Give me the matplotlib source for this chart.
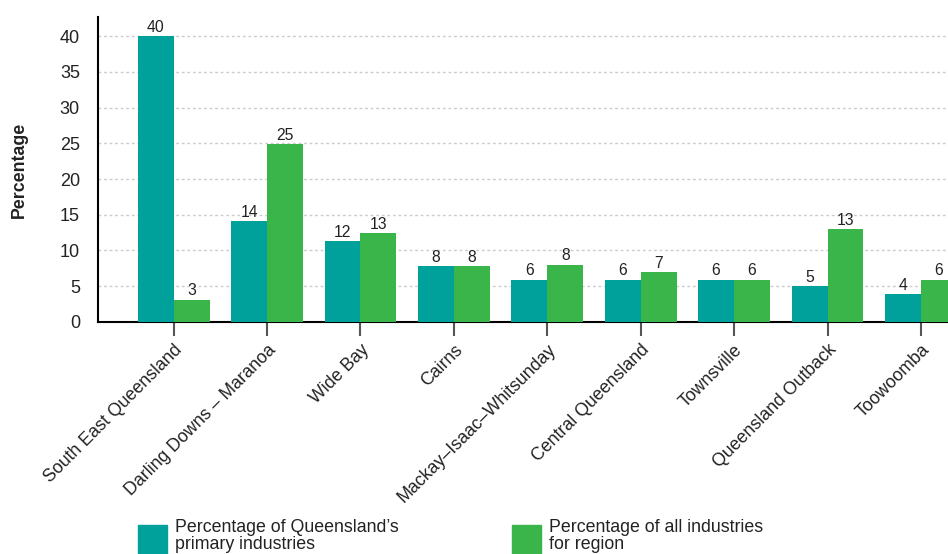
import matplotlib
matplotlib.use('Agg')
import matplotlib.pyplot as plt
from matplotlib.patches import Rectangle
import numpy as np

plt.rcParams['font.family'] = ['Liberation Sans', 'DejaVu Sans']

# Data
regions = ['South East Queensland', 'Darling Downs – Maranoa', 'Wide Bay', 'Cairns',
           'Mackay–Isaac–Whitsunday', 'Central Queensland', 'Townsville',
           'Queensland Outback', 'Toowoomba']
primary = [40.0, 14.1, 11.3, 7.8, 5.9, 5.9, 5.9, 5.0, 3.9]
all_ind = [3.1, 24.9, 12.4, 7.8, 8.0, 7.0, 5.9, 13.0, 5.9]
primary_lbl = ['40', '14', '12', '8', '6', '6', '6', '5', '4']
all_lbl = ['3', '25', '13', '8', '8', '7', '6', '13', '6']
series_names = ["Percentage of Queensland’s\nprimary industries",
                'Percentage of all industries\nfor region']
teal = '#00A19A'
green = '#3AB54A'

fig = plt.figure(figsize=(9.48, 5.54), dpi=100)
ax = fig.add_axes([0.1034, 0.4188, 0.8966, 0.5505])

x = np.arange(len(regions))
w = 0.385
b1 = ax.bar(x - w/2, primary, w, color=teal, zorder=3)
b2 = ax.bar(x + w/2, all_ind, w, color=green, zorder=3)
ax.bar_label(b1, labels=primary_lbl, padding=1, fontsize=11.3, color='#222222')
ax.bar_label(b2, labels=all_lbl, padding=1, fontsize=11.3, color='#222222')

ax.set_xlim(-0.81, 8.29)
ax.set_ylim(0, 42.66)
ax.set_yticks(range(0, 41, 5))
ax.tick_params(axis='y', length=0, pad=13, labelsize=13, labelcolor='#222222')
ax.set_xticks(x)
ax.set_xticklabels(regions, rotation=45, ha='right', va='top',
                   rotation_mode='anchor', fontsize=12.8, color='#222222')
ax.tick_params(axis='x', length=10, width=1.5, color='#555555', pad=4)

for s in ['top', 'right']:
    ax.spines[s].set_visible(False)
ax.spines['left'].set_linewidth(1.5)
ax.spines['bottom'].set_linewidth(1.5)

ax.yaxis.grid(True, linestyle=(0, (2, 2)), color='#cccccc', linewidth=1, zorder=0)
ax.set_axisbelow(True)

ax.set_ylabel('Percentage', fontsize=12.8, fontweight='bold', color='#222222')
ax.yaxis.set_label_coords(-0.083, 0.5)

# legend drawn by hand below the plot
lx = [138 / 948, 512 / 948]
for i in range(2):
    fig.add_artist(Rectangle((lx[i], 0), 29 / 948, 29 / 554,
                             transform=fig.transFigure,
                             color=[teal, green][i]))
    fig.text(lx[i] + 37 / 948, 1 - 519 / 554, series_names[i], fontsize=12.8,
             va='top', ha='left', color='#222222', linespacing=1.0)

fig.savefig('out.png', dpi=100)
